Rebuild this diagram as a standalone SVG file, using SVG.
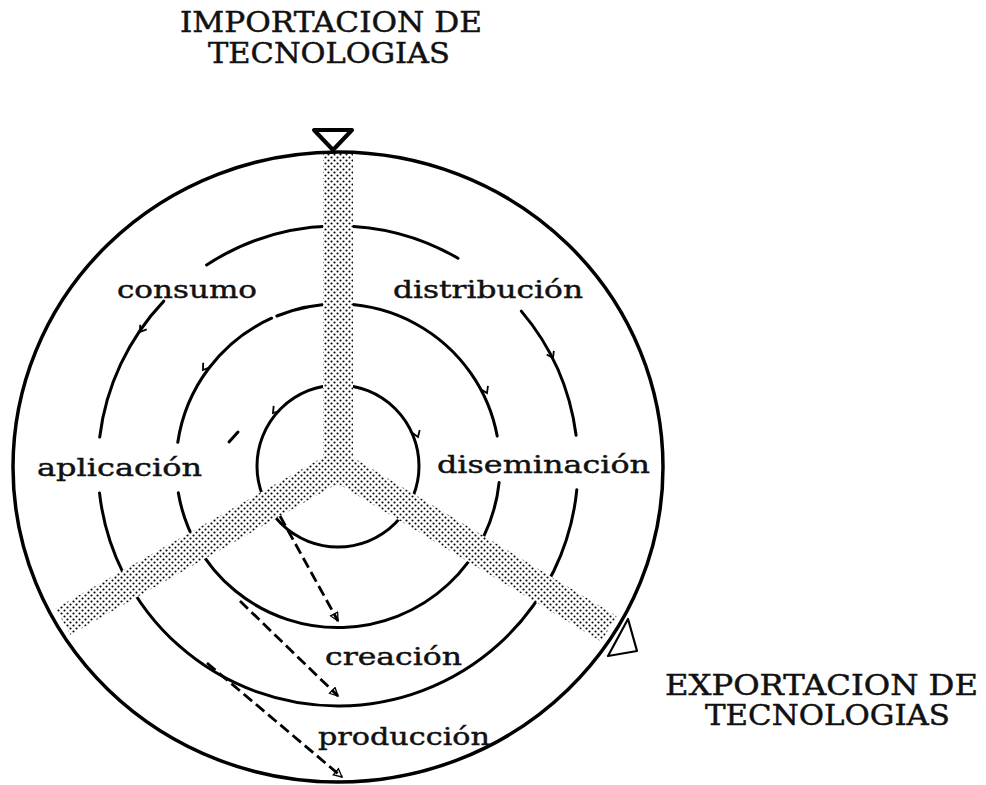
<svg xmlns="http://www.w3.org/2000/svg" width="986" height="785" viewBox="0 0 986 785">
<defs>
<pattern id="dots" width="6" height="6" patternUnits="userSpaceOnUse">
<rect width="6" height="6" fill="#fff"/>
<circle cx="1.5" cy="1.5" r="1.05" fill="#000"/>
<circle cx="4.5" cy="4.5" r="1.05" fill="#000"/>
</pattern>
<marker id="ah" markerWidth="10" markerHeight="10" refX="9" refY="5" orient="auto" markerUnits="userSpaceOnUse">
<path d="M1,1 L9,5 L1,9 Z" fill="none" stroke="#000" stroke-width="1.3"/>
</marker>
<path id="barb" d="M-6,-4 L0,0 L-6,4" fill="none" stroke="#000" stroke-width="1.8"/>
</defs>
<style>
.ring{fill:none;stroke:#000;stroke-width:3;stroke-linecap:round}
.outer{fill:none;stroke:#000;stroke-width:3.5}
.lbl{font-family:"DejaVu Serif","Liberation Serif",serif;font-size:25px;fill:#111;stroke:#111;stroke-width:0.45}
.ttl{font-family:"DejaVu Serif","Liberation Serif",serif;font-size:27px;fill:#111;stroke:#111;stroke-width:0.45}
.dash{fill:none;stroke:#000;stroke-width:2.8;stroke-dasharray:11 5}
</style>
<rect width="986" height="785" fill="#fff"/>

<g id="rings">
<path class="ring" d="M576.8,489.8 A240,240 0 0 1 99.5,492.9"/>
<path class="ring" d="M99.7,437.1 A240,240 0 0 1 163.8,301.1"/>
<path class="ring" d="M206.6,265.0 A240,240 0 0 1 458.0,258.2"/>
<path class="ring" d="M521.3,311.1 A240,240 0 0 1 576.1,435.2"/>
<path class="ring" d="M499.1,482.6 A162,162 0 0 1 178.3,492.8"/>
<path class="ring" d="M177.8,442.3 A162,162 0 0 1 271.6,318.2"/>
<path class="ring" d="M276.8,316.0 A162,162 0 0 1 497.2,436.0"/>
<circle class="ring" cx="338" cy="466" r="81"/>
<path class="ring" d="M229,442 L238,432"/>
</g>

<g id="marks">
<use href="#barb" transform="translate(140,332) rotate(125)"/>
<use href="#barb" transform="translate(203,370) rotate(125)"/>
<use href="#barb" transform="translate(273,413) rotate(129)"/>
<use href="#barb" transform="translate(487,393) rotate(64)"/>
<use href="#barb" transform="translate(553,358) rotate(63)"/>
<use href="#barb" transform="translate(418,437) rotate(70)"/>
</g>

<g id="spokes">
<path fill="url(#dots)" d="M323,153 L353,153 L353,457.5 L616.6,615.9 L601.2,641.6 L337.8,483.4 L70.4,634.7 L55.6,608.5 L323,457.3 Z"/>
</g>

<g id="outer-circle">
<ellipse class="outer" cx="338" cy="467" rx="325" ry="315"/>
</g>

<g id="import-node">
<polygon points="314,130 352,130 333,150" fill="#fff" stroke="#000" stroke-width="4" stroke-linejoin="round"/>
<text class="ttl" x="180" y="32" textLength="302" lengthAdjust="spacingAndGlyphs">IMPORTACION DE</text>
<text class="ttl" x="208" y="63" textLength="242" lengthAdjust="spacingAndGlyphs">TECNOLOGIAS</text>
</g>

<g id="export-node">
<polygon points="628,619 637,651 608,656" fill="none" stroke="#000" stroke-width="2.2" stroke-linejoin="round"/>
<text class="ttl" x="665" y="695" textLength="313" lengthAdjust="spacingAndGlyphs">EXPORTACION DE</text>
<text class="ttl" x="705" y="725" textLength="245" lengthAdjust="spacingAndGlyphs">TECNOLOGIAS</text>
</g>

<g id="labels">
<text class="lbl" x="117" y="298" textLength="140" lengthAdjust="spacingAndGlyphs">consumo</text>
<text class="lbl" x="393" y="298" textLength="190" lengthAdjust="spacingAndGlyphs">distribución</text>
<text class="lbl" x="37" y="476" textLength="165" lengthAdjust="spacingAndGlyphs">aplicación</text>
<text class="lbl" x="437" y="473" textLength="213" lengthAdjust="spacingAndGlyphs">diseminación</text>
<text class="lbl" x="325" y="665" textLength="137" lengthAdjust="spacingAndGlyphs">creación</text>
<text class="lbl" x="318" y="745" textLength="172" lengthAdjust="spacingAndGlyphs">producción</text>
</g>

<g id="connectors">
<path class="dash" d="M280,516 L338,621" marker-end="url(#ah)"/>
<path class="dash" d="M240,601 L338,696" marker-end="url(#ah)"/>
<path class="dash" d="M207,663 L342,777" marker-end="url(#ah)"/>
</g>
</svg>
